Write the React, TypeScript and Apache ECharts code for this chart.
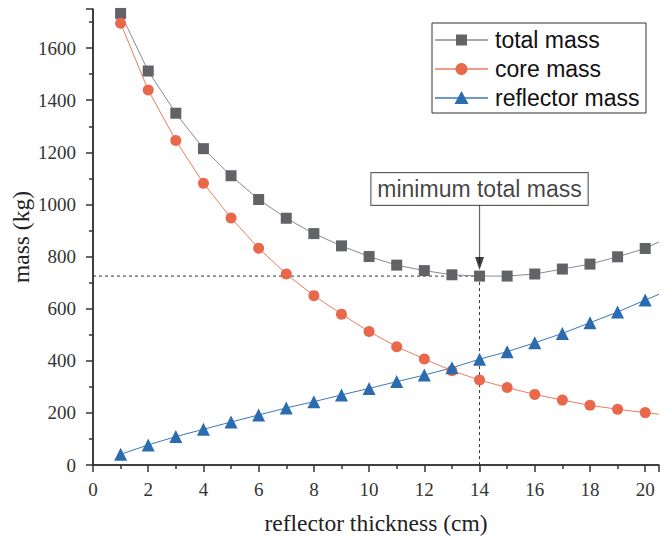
import React, { useEffect, useRef } from "react";
import * as echarts from "echarts";

const thickness = [1, 2, 3, 4, 5, 6, 7, 8, 9, 10, 11, 12, 13, 14, 15, 16, 17, 18, 19, 20];
const totalMass = [1733, 1512, 1350, 1214, 1110, 1019, 947, 888, 841, 800, 767, 746, 730, 725, 725, 733, 752, 771, 799, 831];
const coreMass = [1695, 1439, 1245, 1081, 948, 832, 733, 650, 579, 512, 454, 407, 362, 326, 297, 271, 249, 229, 214, 201];
const reflectorMass = [41, 77, 109, 137, 165, 192, 219, 243, 269, 294, 320, 345, 373, 406, 435, 469, 505, 546, 587, 633];
// curve continuation to the right frame edge
const edgeThickness = 20.5;
const edgeTotal = 856;
const edgeCore = 195;
const edgeReflector = 655;

const seriesNames = ["total mass", "core mass", "reflector mass"];

const xInterval = 2;
const yInterval = 200;
const yMax = 1750;

const xTitle = "reflector thickness (cm)";
const yTitle = "mass (kg)";

const minThickness = 14;
const minTotal = 725;
const annotationText = "minimum total mass";
const annotationValue = 1059;
const arrowStart = 1000;
const arrowHead = 773;

const SERIF = "Liberation Serif";
const SANS = "Liberation Sans";

const TOTAL_MARK = "#626367";
const TOTAL_LINE = "#8a8a8a";
const CORE_MARK = "#e9684c";
const CORE_LINE = "#ee7a62";
const REFL_MARK = "#2b6cb0";
const REFL_LINE = "#3a78bb";
const AXIS = "#333";

function pairs(values: number[]) {
  return thickness.map((x, i) => [x, values[i]]);
}

function tail(values: number[], edge: number) {
  const n = thickness.length - 1;
  return [[thickness[n], values[n]], [edgeThickness, edge]];
}

function legendGraphic() {
  const left = 432;
  const top = 23;
  const rowY = [17, 46, 75];
  const colors = [
    [TOTAL_LINE, TOTAL_MARK],
    [CORE_LINE, CORE_MARK],
    [REFL_LINE, REFL_MARK],
  ];
  const children: any[] = [
    { type: "rect", shape: { x: 0, y: 0, width: 214, height: 90 }, style: { fill: "#fff", stroke: "#333", lineWidth: 1 } },
  ];
  rowY.forEach((y, i) => {
    const [lc, mc] = colors[i];
    children.push({ type: "line", shape: { x1: 3, y1: y, x2: 56, y2: y }, style: { stroke: lc, lineWidth: 1.5 } });
    if (i === 0) {
      children.push({ type: "rect", shape: { x: 24, y: y - 5.5, width: 11, height: 11 }, style: { fill: mc } });
    } else if (i === 1) {
      children.push({ type: "circle", shape: { cx: 29.5, cy: y, r: 6 }, style: { fill: mc } });
    } else {
      children.push({ type: "polygon", shape: { points: [[29.5, y - 7], [22.5, y + 6], [36.5, y + 6]] }, style: { fill: mc } });
    }
    children.push({
      type: "text",
      x: 63,
      y,
      style: { text: seriesNames[i], fontFamily: SANS, fontSize: 23, fill: "#111", align: "left", verticalAlign: "middle" },
    });
  });
  return { type: "group", x: left, y: top, silent: true, z: 10, children };
}

function plainLine(name: string, data: number[][], color: string, width: number, dashed: boolean, clip = true) {
  return {
    name,
    type: "line",
    data,
    symbol: "none",
    silent: true,
    clip,
    lineStyle: { color, width, type: dashed ? [3, 3] : "solid" },
  };
}

export default function App() {
  const ref = useRef<HTMLDivElement>(null);
  useEffect(() => {
    if (!ref.current) return;
    const chart = echarts.init(ref.current, undefined, { renderer: "svg" });
    chart.setOption({
      animation: false,
      backgroundColor: "#fff",
      grid: { left: 93, right: 11, top: 9, bottom: 74 },
      graphic: [
        {
          type: "text",
          x: 376,
          y: 523,
          silent: true,
          style: { text: xTitle, fontFamily: SERIF, fontSize: 23.5, fill: "#222", align: "center", verticalAlign: "middle" },
        },
        {
          type: "text",
          x: 21,
          y: 237,
          rotation: Math.PI / 2,
          silent: true,
          style: { text: yTitle, fontFamily: SERIF, fontSize: 23.5, fill: "#222", align: "center", verticalAlign: "middle" },
        },
        legendGraphic(),
      ],
      xAxis: {
        type: "value",
        min: 0,
        max: edgeThickness,
        interval: xInterval,
        axisLine: { show: true, onZero: false, lineStyle: { color: AXIS, width: 1.5 } },
        axisTick: { show: true, length: 7, lineStyle: { color: AXIS, width: 1.5 } },
        minorTick: { show: true, splitNumber: 2, length: 4, lineStyle: { color: AXIS, width: 1.5 } },
        axisLabel: {
          showMaxLabel: false,
          margin: 15,
          fontFamily: SERIF,
          fontSize: 19,
          color: "#333",
          formatter: (v: number) => String(v),
        },
        splitLine: { show: false },
      },
      yAxis: {
        type: "value",
        min: 0,
        max: yMax,
        interval: yInterval,
        axisLine: { show: true, onZero: false, lineStyle: { color: AXIS, width: 1.5 } },
        axisTick: { show: true, length: 7, lineStyle: { color: AXIS, width: 1.5 } },
        minorTick: { show: true, splitNumber: 2, length: 4, lineStyle: { color: AXIS, width: 1.5 } },
        axisLabel: {
          showMaxLabel: false,
          margin: 17,
          fontFamily: SERIF,
          fontSize: 19,
          color: "#333",
          formatter: (v: number) => String(v),
        },
        splitLine: { show: false },
      },
      series: [
        plainLine("x-axis-line", [[0, 0], [edgeThickness, 0]], AXIS, 1.5, false, false),
        plainLine("y-axis-line", [[0, 0], [0, yMax]], AXIS, 1.5, false, false),
        plainLine("min-h", [[0, minTotal], [minThickness, minTotal]], "#333", 1, true),
        plainLine("min-v", [[minThickness, minTotal], [minThickness, 0]], "#333", 1, true),
        plainLine("arrow-line", [[minThickness, arrowStart], [minThickness, arrowHead]], "#666", 1.2, false),
        plainLine("total-tail", tail(totalMass, edgeTotal), TOTAL_LINE, 1, false),
        plainLine("core-tail", tail(coreMass, edgeCore), CORE_LINE, 1, false),
        plainLine("reflector-tail", tail(reflectorMass, edgeReflector), REFL_LINE, 1, false),
        {
          name: seriesNames[0],
          type: "line",
          data: pairs(totalMass),
          symbol: "rect",
          symbolSize: 11,
          itemStyle: { color: TOTAL_MARK },
          lineStyle: { color: TOTAL_LINE, width: 1 },
        },
        {
          name: seriesNames[1],
          type: "line",
          data: pairs(coreMass),
          symbol: "circle",
          symbolSize: 11,
          itemStyle: { color: CORE_MARK },
          lineStyle: { color: CORE_LINE, width: 1 },
        },
        {
          name: seriesNames[2],
          type: "line",
          data: pairs(reflectorMass),
          symbol: "triangle",
          symbolSize: 13,
          itemStyle: { color: REFL_MARK },
          lineStyle: { color: REFL_LINE, width: 1 },
        },
        {
          name: "arrow-head",
          type: "scatter",
          data: [[minThickness, arrowHead]],
          symbol: "triangle",
          symbolRotate: 180,
          symbolSize: [9, 13],
          silent: true,
          itemStyle: { color: "#111" },
          z: 5,
        },
        {
          name: "annotation",
          type: "scatter",
          data: [[minThickness, annotationValue]],
          symbolSize: 0,
          silent: true,
          z: 6,
          label: {
            show: true,
            position: "inside",
            formatter: annotationText,
            fontFamily: SANS,
            fontSize: 23,
            lineHeight: 24,
            color: "#111",
            backgroundColor: "#fff",
            borderColor: "#333",
            borderWidth: 1,
            padding: [4, 6],
          },
        },
      ],
    });
    return () => chart.dispose();
  }, []);
  return <div ref={ref} style={{ position: "fixed", left: 0, top: 0, width: 670, height: 539 }} />;
}
